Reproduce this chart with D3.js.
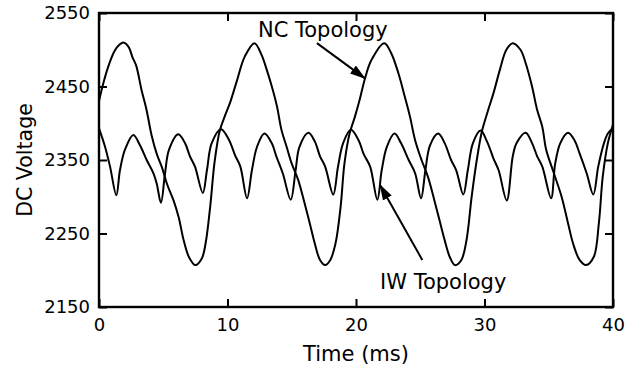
<!DOCTYPE html>
<html>
<head>
<meta charset="utf-8">
<script src="https://cdn.jsdelivr.net/npm/d3@7"></script>
<style>
  body { margin: 0; background: #fff; }
  svg text { font-family: Verdana, "DejaVu Sans", sans-serif; fill: #000; }
</style>
</head>
<body>
<svg id="chart"></svg>
<script>
// time (ms) / voltage
const ncTime = [0, 0.3, 0.7, 1.2, 1.6, 1.9, 2.3, 2.6, 2.9, 3.3, 3.7, 4.1, 4.5, 4.9, 5.3, 5.8, 6.2, 6.6, 7.0, 7.5, 8.0, 8.3, 8.65, 9.0, 9.4, 9.8,
  10.2, 10.7, 11.35, 12.1, 12.65, 13.05, 13.45, 13.85, 14.2, 14.6, 15.0, 15.5, 16.0, 16.4, 16.8, 17.2, 17.6, 18.0, 18.4, 18.8, 19.1, 19.5, 19.9,
  20.3, 20.7, 21.2, 22.2, 22.75, 23.3, 23.8, 24.2, 24.6, 25.1, 25.6, 26.1, 26.5, 26.9, 27.3, 27.7, 28.2, 28.6, 29.0, 29.4, 29.8,
  30.25, 30.7, 31.2, 31.7, 32.2, 32.8, 33.2, 33.7, 34.1, 34.5, 34.8, 35.4, 36.0, 36.5, 36.9, 37.4, 37.9, 38.5, 38.9, 39.2, 39.6, 40.0];
const ncVolt = [2430, 2452, 2476, 2498, 2507, 2510, 2504, 2490, 2478, 2446, 2418, 2383, 2358, 2340, 2317, 2295, 2272, 2240, 2218, 2207, 2216, 2237, 2286, 2348, 2390, 2410,
  2428, 2456, 2491, 2509, 2493, 2473, 2450, 2423, 2391, 2368, 2345, 2323, 2291, 2264, 2236, 2214, 2207, 2214, 2236, 2286, 2345, 2386, 2408,
  2433, 2461, 2486, 2509, 2495, 2468, 2436, 2409, 2377, 2350, 2327, 2295, 2268, 2241, 2218, 2207, 2214, 2241, 2300, 2350, 2389,
  2416, 2441, 2473, 2500, 2509, 2500, 2482, 2450, 2418, 2395, 2364, 2332, 2300, 2264, 2236, 2214, 2207, 2218, 2264, 2327, 2373, 2398];

const iwTime = [0, 0.47, 0.86, 1.35, 1.63, 2.02, 2.67, 3.19, 3.71, 4.23, 4.49, 4.82, 5.14, 5.45, 6.17, 6.69, 7.08, 7.47, 8.08, 8.4, 8.77, 9.5,
  10.1, 10.6, 11.0, 11.52, 11.9, 12.3, 12.87, 13.44, 13.8, 14.3, 14.92, 15.3, 15.6, 16.3, 16.8, 17.2, 17.6, 18.23, 18.6, 19.0, 19.6,
  20.2, 20.6, 21.1, 21.66, 22.0, 22.4, 23.0, 23.5, 24.1, 24.6, 25.06, 25.4, 25.76, 26.4, 26.9, 27.4, 27.8, 28.35, 28.7, 29.1, 29.7,
  30.2, 30.7, 31.1, 31.73, 32.2, 32.5, 33.2, 33.7, 34.1, 34.5, 35.18, 35.5, 35.9, 36.5, 37.0, 37.4, 37.95, 38.47, 38.85, 39.3, 39.6, 40.0];
const iwVolt = [2393, 2368, 2341, 2302, 2336, 2364, 2384, 2370, 2350, 2332, 2318, 2292, 2332, 2364, 2385, 2373, 2355, 2341, 2305, 2336, 2373, 2392,
  2378, 2356, 2341, 2298, 2336, 2368, 2386, 2373, 2355, 2332, 2296, 2336, 2368, 2387, 2375, 2355, 2341, 2303, 2341, 2373, 2391,
  2377, 2358, 2341, 2296, 2336, 2368, 2386, 2373, 2350, 2332, 2298, 2336, 2370, 2386, 2373, 2350, 2336, 2303, 2336, 2373, 2390,
  2375, 2352, 2336, 2295, 2355, 2373, 2387, 2373, 2355, 2341, 2298, 2345, 2373, 2387, 2377, 2359, 2332, 2303, 2341, 2373, 2386, 2393];

const xTicks = [0, 10, 20, 30, 40];
const yTicks = [2150, 2250, 2350, 2450, 2550];

// annotation positions in data units [time, volt]
const ncLabel = { text: "NC Topology", at: [12.37, 2517], from: [16.96, 2509], to: [20.7, 2461] };
const iwLabel = { text: "IW Topology", at: [21.87, 2175], from: [25.16, 2214], to: [21.87, 2316] };

const width = 635, height = 369;
const margin = { top: 13, right: 22, bottom: 62, left: 99 };

const svg = d3.select("#chart").attr("width", width).attr("height", height);

const x = d3.scaleLinear().domain([0, 40]).range([margin.left, width - margin.right]);
const y = d3.scaleLinear().domain([2150, 2550]).range([height - margin.bottom, margin.top]);

// arrow head
svg.append("defs").append("marker")
  .attr("id", "arrow")
  .attr("viewBox", "0 0 16 10")
  .attr("refX", 15).attr("refY", 5)
  .attr("markerWidth", 16).attr("markerHeight", 10)
  .attr("markerUnits", "userSpaceOnUse")
  .attr("orient", "auto")
  .append("path").attr("d", "M0,0L16,5L0,10Z").attr("fill", "#000");

// axes, ticks pointing inward
const fontTick = "18px";
svg.append("g").attr("transform", `translate(0,${y(2150)})`)
  .call(d3.axisBottom(x).tickValues(xTicks).tickSize(-8).tickPadding(11).tickFormat(d3.format("d")));
svg.append("g").attr("transform", `translate(${x(0)},0)`)
  .call(d3.axisLeft(y).tickValues(yTicks).tickSize(-8).tickPadding(9).tickFormat(d3.format("d")));
svg.append("g").attr("transform", `translate(0,${y(2550)})`)
  .call(d3.axisTop(x).tickValues(xTicks).tickSize(-8).tickFormat(""));
svg.append("g").attr("transform", `translate(${x(40)},0)`)
  .call(d3.axisRight(y).tickValues(yTicks).tickSize(-8).tickFormat(""));

svg.selectAll(".domain").remove();
svg.selectAll(".tick line").attr("stroke", "#000").attr("stroke-width", 2);
svg.selectAll(".tick text").style("font-size", fontTick).attr("fill", "#000");

// frame
svg.append("rect")
  .attr("x", x(0)).attr("y", y(2550))
  .attr("width", x(40) - x(0)).attr("height", y(2150) - y(2550))
  .attr("fill", "none").attr("stroke", "#000").attr("stroke-width", 2.4);

// curves
const line = d3.line().curve(d3.curveCatmullRom.alpha(0.5))
  .x(d => x(d[0])).y(d => y(d[1]));

const ncData = ncTime.map((t, i) => [t, ncVolt[i]]);
const iwData = iwTime.map((t, i) => [t, iwVolt[i]]);

svg.append("path").datum(ncData).attr("d", line)
  .attr("fill", "none").attr("stroke", "#000").attr("stroke-width", 2);
svg.append("path").datum(iwData).attr("d", line)
  .attr("fill", "none").attr("stroke", "#000").attr("stroke-width", 2);

// annotations
[ncLabel, iwLabel].forEach(a => {
  svg.append("text")
    .attr("x", x(a.at[0])).attr("y", y(a.at[1]))
    .style("font-size", "21px")
    .text(a.text);
  svg.append("line")
    .attr("x1", x(a.from[0])).attr("y1", y(a.from[1]))
    .attr("x2", x(a.to[0])).attr("y2", y(a.to[1]))
    .attr("stroke", "#000").attr("stroke-width", 2)
    .attr("marker-end", "url(#arrow)");
});

// axis titles
svg.append("text")
  .attr("x", (x(0) + x(40)) / 2).attr("y", 361)
  .attr("text-anchor", "middle").style("font-size", "21px")
  .text("Time (ms)");
svg.append("text")
  .attr("transform", `translate(32,${(y(2150) + y(2550)) / 2}) rotate(-90)`)
  .attr("text-anchor", "middle").style("font-size", "20.5px")
  .text("DC Voltage");
</script>
</body>
</html>
